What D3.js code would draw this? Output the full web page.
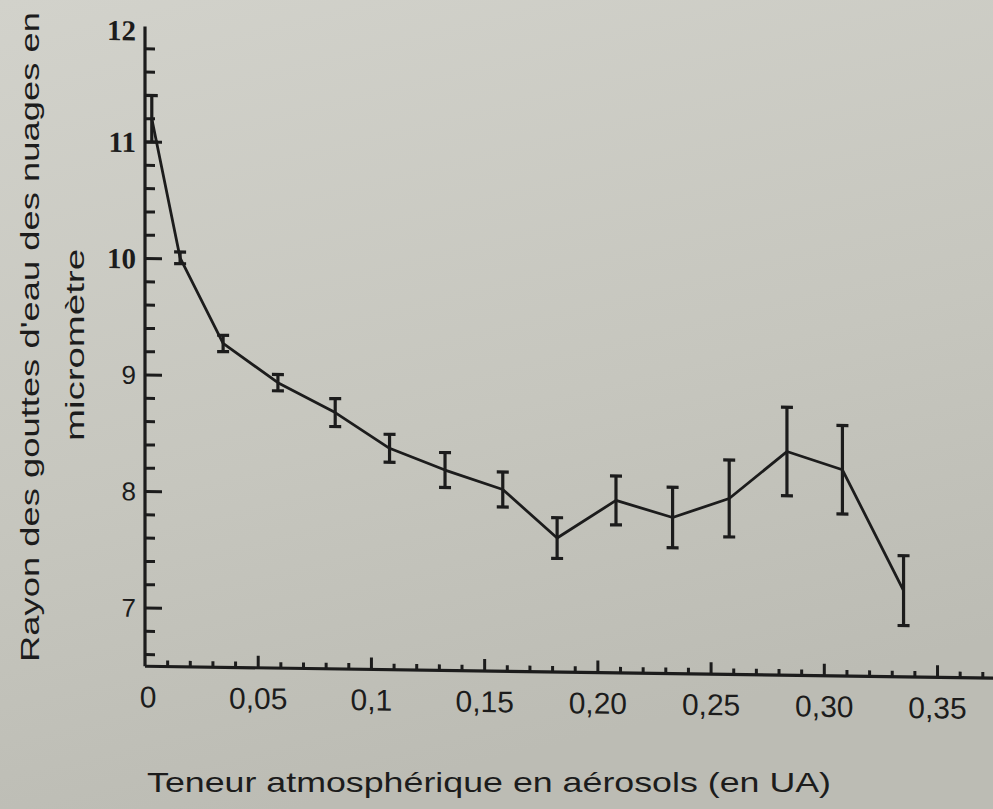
<!DOCTYPE html>
<html>
<head>
<meta charset="utf-8">
<script src="https://cdn.jsdelivr.net/npm/d3@7"></script>
<style>
html,body{margin:0;padding:0;background:#c9c9c2;}
svg{display:block;}
</style>
</head>
<body>
<svg id="chart" width="993" height="809"></svg>
<script>
// Data
const aerosol = [0.003, 0.0155, 0.0345, 0.0587, 0.084, 0.108, 0.1325, 0.158, 0.182, 0.208, 0.233, 0.258, 0.2835, 0.308, 0.335];
const rayon   = [11.2, 10.01, 9.28, 8.95, 8.70, 8.40, 8.22, 8.06, 7.65, 7.98, 7.84, 8.01, 8.42, 8.27, 7.24];
const erreur  = [0.2, 0.05, 0.07, 0.07, 0.12, 0.12, 0.15, 0.15, 0.175, 0.21, 0.26, 0.33, 0.38, 0.38, 0.3];
const xTicks = [0, 0.05, 0.1, 0.15, 0.20, 0.25, 0.30, 0.35];
const xTickLabels = ["0", "0,05", "0,1", "0,15", "0,20", "0,25", "0,30", "0,35"];
const yTicks = [7, 8, 9, 10, 11, 12];
const xTitle = "Teneur atmosphérique en aérosols (en UA)";
const yTitle = ["Rayon des gouttes d'eau des nuages en", "micromètre"];

const svg = d3.select("#chart");
const W = 993, H = 809;
const ink = "#1c1c1c";

// background (photographed paper)
const defs = svg.append("defs");
const grad = defs.append("linearGradient").attr("id","bg").attr("x1","0").attr("y1","0").attr("x2","0.3").attr("y2","1");
grad.append("stop").attr("offset","0").attr("stop-color","#d2d2cb");
grad.append("stop").attr("offset","0.6").attr("stop-color","#c6c6be");
grad.append("stop").attr("offset","1").attr("stop-color","#bcbcb4");
svg.append("rect").attr("width",W).attr("height",H).attr("fill","url(#bg)");

const x = d3.scaleLinear().domain([0, 0.3745]).range([0, 848]);
const y = d3.scaleLinear().domain([6.5, 12]).range([666.25, 25.5]);

const g = svg.append("g").attr("transform","translate(145,0) skewY(0.8)");

// Y axis
g.append("line").attr("x1",0).attr("x2",0).attr("y1",y(12)+1).attr("y2",y(6.5))
  .attr("stroke",ink).attr("stroke-width",3.2);
const yMinor = d3.range(66, 120, 2).map(v => v/10).filter(v => Math.abs(v - Math.round(v)) > 0.01);
g.selectAll("line.ymin").data(yMinor).join("line").attr("class","ymin")
  .attr("x1",0).attr("x2",10).attr("y1",d=>y(d)).attr("y2",d=>y(d))
  .attr("stroke",ink).attr("stroke-width",3);
g.selectAll("line.ymaj").data(yTicks.filter(v=>v<12)).join("line").attr("class","ymaj")
  .attr("x1",0).attr("x2",17).attr("y1",d=>y(d)).attr("y2",d=>y(d))
  .attr("stroke",ink).attr("stroke-width",3);
g.selectAll("text.ylab").data(yTicks).join("text").attr("class","ylab")
  .attr("x",-9).attr("y",d=>y(d) + (d===12 ? 5 : 0)).attr("dy","0.35em")
  .attr("text-anchor","end")
  .attr("font-family", d => d>=10 ? "Liberation Serif, serif" : "Liberation Sans, Arial, sans-serif")
  .attr("font-weight", d => d>=10 ? "bold" : "normal")
  .attr("font-size", d => d>=10 ? 29 : 26)
  .attr("fill",ink)
  .text(d=>d);

// X axis
g.append("line").attr("x1",0).attr("x2",x(0.3745)).attr("y1",y(6.5)).attr("y2",y(6.5))
  .attr("stroke",ink).attr("stroke-width",3.2);
const xMinor = d3.range(1, 38, 1).map(v => v/100).filter(v => Math.abs(v*20 - Math.round(v*20)) > 0.01);
g.selectAll("line.xmin").data(xMinor).join("line").attr("class","xmin")
  .attr("x1",d=>x(d)).attr("x2",d=>x(d)).attr("y1",y(6.5)).attr("y2",y(6.5)-6)
  .attr("stroke",ink).attr("stroke-width",3);
g.selectAll("line.xmaj").data(xTicks.filter(v=>v>0)).join("line").attr("class","xmaj")
  .attr("x1",d=>x(d)).attr("x2",d=>x(d)).attr("y1",y(6.5)).attr("y2",y(6.5)-12)
  .attr("stroke",ink).attr("stroke-width",3);
g.selectAll("text.xlab").data(xTicks).join("text").attr("class","xlab")
  .attr("x",(d,i)=>x(d) + (i===0 ? 3 : 0)).attr("y",y(6.5)+41)
  .attr("text-anchor","middle")
  .attr("font-family","Liberation Sans, Arial, sans-serif")
  .attr("font-size",30).attr("fill",ink)
  .text((d,i)=>xTickLabels[i]);

// data line
const pts = aerosol.map((a,i)=>({a, r: rayon[i], e: erreur[i]}));
g.append("path").datum(pts)
  .attr("d", d3.line().x(d=>x(d.a)).y(d=>y(d.r)))
  .attr("fill","none").attr("stroke",ink).attr("stroke-width",2.8).attr("stroke-linejoin","round");

// error bars
const eb = g.selectAll("g.eb").data(pts).join("g").attr("class","eb");
eb.append("line").attr("x1",d=>x(d.a)).attr("x2",d=>x(d.a))
  .attr("y1",d=>y(d.r+d.e)).attr("y2",d=>y(d.r-d.e))
  .attr("stroke",ink).attr("stroke-width",3.2);
eb.append("line").attr("x1",d=>x(d.a)-6).attr("x2",d=>x(d.a)+6)
  .attr("y1",d=>y(d.r+d.e)).attr("y2",d=>y(d.r+d.e))
  .attr("stroke",ink).attr("stroke-width",3.2);
eb.append("line").attr("x1",d=>x(d.a)-6).attr("x2",d=>x(d.a)+6)
  .attr("y1",d=>y(d.r-d.e)).attr("y2",d=>y(d.r-d.e))
  .attr("stroke",ink).attr("stroke-width",3.2);

// X title
svg.append("text").attr("x",147).attr("y",792)
  .attr("font-family","Liberation Sans, Arial, sans-serif")
  .attr("font-size",28).attr("fill",ink)
  .attr("textLength",684).attr("lengthAdjust","spacingAndGlyphs")
  .text(xTitle);

// Y title (rotated, two lines)
svg.append("text").attr("transform","translate(39,337) rotate(-90)")
  .attr("text-anchor","middle")
  .attr("font-family","Liberation Sans, Arial, sans-serif")
  .attr("font-size",26).attr("fill",ink)
  .attr("textLength",650).attr("lengthAdjust","spacingAndGlyphs")
  .text(yTitle[0]);
svg.append("text").attr("transform","translate(84,345) rotate(-90)")
  .attr("text-anchor","middle")
  .attr("font-family","Liberation Sans, Arial, sans-serif")
  .attr("font-size",26).attr("fill",ink)
  .attr("textLength",192).attr("lengthAdjust","spacingAndGlyphs")
  .text(yTitle[1]);
</script>
</body>
</html>
